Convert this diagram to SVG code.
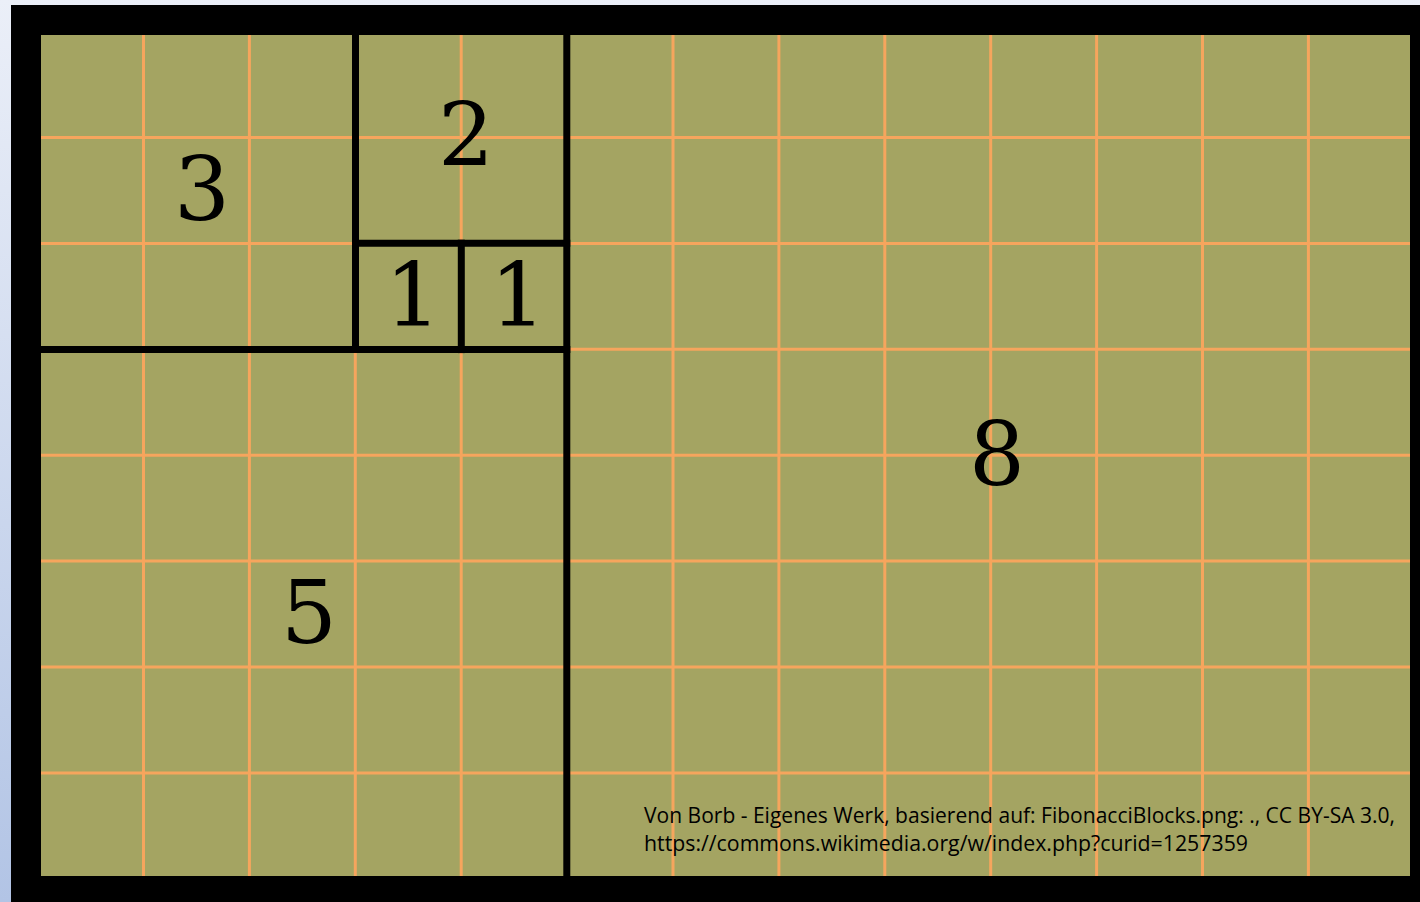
<svg xmlns="http://www.w3.org/2000/svg" width="1420" height="902" viewBox="0 0 1420 902">
  <defs>
    <linearGradient id="bg" x1="0" y1="0" x2="0" y2="1">
      <stop offset="0" stop-color="#EBEFF8"/>
      <stop offset="1" stop-color="#B2C4E5"/>
    </linearGradient>
    <style>
      .grid line { stroke: #F6A55D; stroke-width: 3; }
      .bold line { stroke: #000; stroke-width: 7; stroke-linecap: square; }
      .num { font-family: "DejaVu Serif", "Liberation Serif", serif; font-size: 88px; fill: #000; text-anchor: middle; }
      .cap { font-family: "Open Sans", "Noto Sans", "Liberation Sans", sans-serif; font-size: 21px; fill: #000; }
    </style>
  </defs>
  <rect x="0" y="0" width="1420" height="902" fill="url(#bg)"/>
  <rect x="11" y="5" width="1409" height="897" fill="#000"/>
  <rect x="41" y="35" width="1369" height="841" fill="#A4A462"/>
  <g class="grid" id="grid">
    <line x1="143.5" y1="35" x2="143.5" y2="876"/>
    <line x1="249.4" y1="35" x2="249.4" y2="876"/>
    <line x1="355.3" y1="35" x2="355.3" y2="876"/>
    <line x1="461.2" y1="35" x2="461.2" y2="876"/>
    <line x1="673" y1="35" x2="673" y2="876"/>
    <line x1="778.9" y1="35" x2="778.9" y2="876"/>
    <line x1="884.8" y1="35" x2="884.8" y2="876"/>
    <line x1="990.7" y1="35" x2="990.7" y2="876"/>
    <line x1="1096.6" y1="35" x2="1096.6" y2="876"/>
    <line x1="1202.5" y1="35" x2="1202.5" y2="876"/>
    <line x1="1308.4" y1="35" x2="1308.4" y2="876"/>
    <line x1="41" y1="137.5" x2="1410" y2="137.5"/>
    <line x1="41" y1="243.4" x2="1410" y2="243.4"/>
    <line x1="41" y1="349.3" x2="1410" y2="349.3"/>
    <line x1="41" y1="455.2" x2="1410" y2="455.2"/>
    <line x1="41" y1="561.1" x2="1410" y2="561.1"/>
    <line x1="41" y1="667" x2="1410" y2="667"/>
    <line x1="41" y1="772.9" x2="1410" y2="772.9"/>
  </g>
  <g class="bold" id="dividers">
    <line x1="355.5" y1="35" x2="355.5" y2="349.3"/>
    <line x1="566.8" y1="35" x2="566.8" y2="876"/>
    <line x1="355.5" y1="243.2" x2="566.8" y2="243.2"/>
    <line x1="41" y1="349.6" x2="566.8" y2="349.6"/>
    <line x1="461.3" y1="243.2" x2="461.3" y2="349.6"/>
  </g>
  <g id="sq3"><text class="num" x="202" y="220">3</text></g>
  <g id="sq2"><text class="num" x="466" y="166">2</text></g>
  <g id="sq1a"><text class="num" x="413" y="326">1</text></g>
  <g id="sq1b"><text class="num" x="518" y="326">1</text></g>
  <g id="sq5"><text class="num" x="309" y="643">5</text></g>
  <g id="sq8"><text class="num" x="997" y="485">8</text></g>
  <g id="caption">
    <text class="cap" x="644" y="823" textLength="751" lengthAdjust="spacingAndGlyphs">Von Borb - Eigenes Werk, basierend auf: FibonacciBlocks.png: ., CC BY-SA 3.0,</text>
    <text class="cap" x="644" y="851" textLength="604" lengthAdjust="spacingAndGlyphs">https://commons.wikimedia.org/w/index.php?curid=1257359</text>
  </g>
</svg>
